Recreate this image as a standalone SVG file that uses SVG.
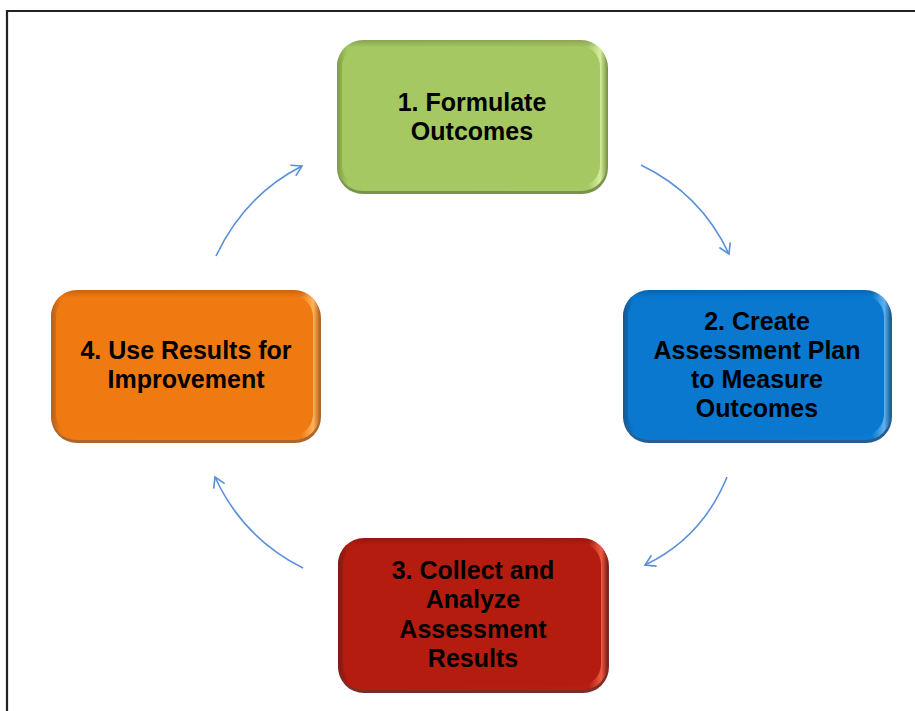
<svg xmlns="http://www.w3.org/2000/svg" width="915" height="711" viewBox="0 0 915 711">
<defs>
<linearGradient id="gG" x1="0" y1="0" x2="1" y2="0"><stop offset="0" stop-color="#7f9c45"/><stop offset="0.04" stop-color="#a5c862"/><stop offset="0.93" stop-color="#a8ca66"/><stop offset="0.975" stop-color="#d6ec9c"/><stop offset="1" stop-color="#7f9c45"/></linearGradient>
<linearGradient id="gB" x1="0" y1="0" x2="1" y2="0"><stop offset="0" stop-color="#15568f"/><stop offset="0.04" stop-color="#0a78cf"/><stop offset="0.93" stop-color="#0c7bd2"/><stop offset="0.975" stop-color="#5fb2ef"/><stop offset="1" stop-color="#15568f"/></linearGradient>
<linearGradient id="gR" x1="0" y1="0" x2="1" y2="0"><stop offset="0" stop-color="#7e1a12"/><stop offset="0.04" stop-color="#b41c10"/><stop offset="0.93" stop-color="#b71e12"/><stop offset="0.975" stop-color="#ef5a45"/><stop offset="1" stop-color="#7e1a12"/></linearGradient>
<linearGradient id="gO" x1="0" y1="0" x2="1" y2="0"><stop offset="0" stop-color="#b5601c"/><stop offset="0.04" stop-color="#f07a12"/><stop offset="0.93" stop-color="#f17c14"/><stop offset="0.975" stop-color="#ffb45a"/><stop offset="1" stop-color="#b5601c"/></linearGradient>
<linearGradient id="top" x1="0" y1="0" x2="0" y2="1"><stop offset="0" stop-color="#000" stop-opacity="0.18"/><stop offset="0.05" stop-color="#000" stop-opacity="0"/><stop offset="1" stop-color="#000" stop-opacity="0"/></linearGradient>
<marker id="ah" markerWidth="14" markerHeight="14" refX="11" refY="7" orient="auto" markerUnits="userSpaceOnUse"><path d="M1,1 L11,7 L1,13" fill="none" stroke="#5b8fd8" stroke-width="1.6"/></marker>
</defs>
<style>
.lbl{font-family:"Liberation Sans",Arial,sans-serif;font-weight:bold;font-size:25px;fill:#000;text-anchor:middle}
.arr{fill:none;stroke:#5b8fd8;stroke-width:1.6;marker-end:url(#ah)}
.sh{opacity:0.9}
</style>
<rect width="915" height="711" fill="#fff"/>
<path d="M7,711 V11 H915" fill="none" stroke="#222" stroke-width="2.2"/>

<g id="n1">
<rect class="sh" x="337" y="42" width="271" height="152" rx="26" fill="#6b8638"/>
<rect x="337" y="40" width="270" height="151" rx="26" fill="url(#gG)"/>
<rect x="342" y="45" width="258" height="142" rx="22" fill="#a5c862"/>
<rect x="337" y="40" width="270" height="151" rx="26" fill="url(#top)"/>
<text class="lbl" x="472" y="111">1. Formulate</text>
<text class="lbl" x="472" y="140">Outcomes</text>
</g>

<g id="n2">
<rect class="sh" x="623" y="292" width="269" height="151" rx="26" fill="#0f4d85"/>
<rect x="623" y="290" width="268" height="150" rx="26" fill="url(#gB)"/>
<rect x="628" y="295" width="256" height="141" rx="22" fill="#0a78cf"/>
<rect x="623" y="290" width="268" height="150" rx="26" fill="url(#top)"/>
<text class="lbl" x="757" y="330">2. Create</text>
<text class="lbl" x="757" y="359">Assessment Plan</text>
<text class="lbl" x="757" y="388">to Measure</text>
<text class="lbl" x="757" y="417">Outcomes</text>
</g>

<g id="n3">
<rect class="sh" x="338" y="540" width="271" height="153" rx="26" fill="#6e150e"/>
<rect x="338" y="538" width="270" height="152" rx="26" fill="url(#gR)"/>
<rect x="343" y="543" width="258" height="143" rx="22" fill="#b41c10"/>
<rect x="338" y="538" width="270" height="152" rx="26" fill="url(#top)"/>
<text class="lbl" x="473" y="579">3. Collect and</text>
<text class="lbl" x="473" y="608">Analyze</text>
<text class="lbl" x="473" y="638">Assessment</text>
<text class="lbl" x="473" y="667">Results</text>
</g>

<g id="n4">
<rect class="sh" x="51" y="292" width="270" height="151" rx="26" fill="#a2551a"/>
<rect x="51" y="290" width="269" height="150" rx="26" fill="url(#gO)"/>
<rect x="56" y="295" width="257" height="141" rx="22" fill="#f07a12"/>
<rect x="51" y="290" width="269" height="150" rx="26" fill="url(#top)"/>
<text class="lbl" x="186" y="359">4. Use Results for</text>
<text class="lbl" x="186" y="388">Improvement</text>
</g>

<g id="connectors">
<path class="arr" d="M641,165 Q701,194 729,254"/>
<path class="arr" d="M727,477 Q702,538 645,565"/>
<path class="arr" d="M303,568 Q243,538 215,477"/>
<path class="arr" d="M216,256 Q245,195 302,166"/>
</g>
</svg>
